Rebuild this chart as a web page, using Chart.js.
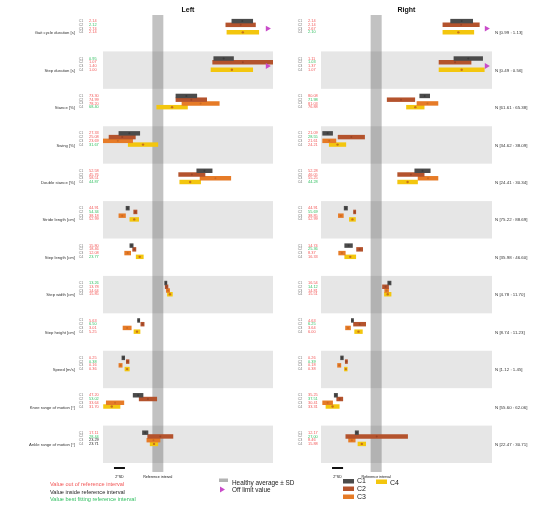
<!DOCTYPE html>
<html>
<head>
<meta charset="utf-8">
<script src="https://cdn.jsdelivr.net/npm/chart.js@4/dist/chart.umd.min.js"></script>
<style>
  html, body { margin: 0; padding: 0; background: #fff; }
  #wrap { position: relative; width: 535px; height: 509px; }
  #wrap canvas { position: absolute; left: 0; top: 0; }
</style>
</head>
<body>
<div id="wrap">
  <canvas id="leftChart" width="535" height="509"></canvas>
  <canvas id="rightChart" width="535" height="509"></canvas>
</div>
<script>
// Gait parameters (one row each)
const rowNames = [
  'Gait cycle duration [s]', 'Step duration [s]', 'Stance [%]', 'Swing [%]',
  'Double stance [%]', 'Stride length [cm]', 'Step length [cm]', 'Step width [cm]',
  'Step height [cm]', 'Speed [m/s]', 'Knee range of motion [°]', 'Ankle range of motion [°]'
];
const clusters = ['C1', 'C2', 'C3', 'C4'];

// Healthy reference interval (average ± SD) per parameter
const refLow  = [0.99, 0.49, 61.61, 34.62, 24.41, 75.22, 35.98, 4.78, 8.74, 1.12, 55.60, 22.47];
const refHigh = [1.13, 0.56, 65.38, 38.09, 30.34, 88.69, 46.60, 11.70, 11.23, 1.45, 62.06, 30.71];

// Cluster means and spreads, in healthy-SD units from the healthy average
// rows = parameters, columns = C1..C4
const leftMeanZ = [
  [15.4, 15.1, 24.0, 15.5],
  [12.0, 15.5, 25.0, 13.5],
  [5.2, 6.1, 7.8, 2.6],
  [-5.2, -6.5, -7.3, -2.7],
  [8.5, 6.2, 10.5, 5.9],
  [-5.5, -4.1, -6.5, -4.3],
  [-4.8, -4.3, -5.5, -3.3],
  [1.45, 1.6, 1.85, 2.2],
  [-3.5, -2.8, -5.6, -3.8],
  [-6.3, -5.5, -6.8, -5.6],
  [-3.6, -1.8, -7.8, -8.4],
  [-2.3, 0.45, -0.8, -0.7]
];
const leftSdZ = [
  [1.9, 2.7, 2.5, 2.9],
  [1.8, 5.5, 3.0, 3.8],
  [1.9, 2.8, 3.4, 2.8],
  [1.9, 2.4, 2.7, 2.7],
  [1.4, 2.4, 2.8, 1.9],
  [0.3, 0.3, 0.6, 0.8],
  [0.3, 0.3, 0.55, 0.65],
  [0.2, 0.25, 0.3, 0.45],
  [0.2, 0.3, 0.75, 0.55],
  [0.25, 0.25, 0.3, 0.4],
  [0.9, 1.6, 1.6, 1.5],
  [0.5, 2.3, 1.2, 0.7]
];
const rightMeanZ = [
  [15.5, 15.4, 23.0, 14.9],
  [16.7, 14.3, 24.0, 15.5],
  [8.8, 4.5, 9.3, 7.1],
  [-8.8, -4.5, -8.5, -7.0],
  [8.4, 6.3, 9.4, 5.7],
  [-5.5, -3.9, -6.4, -4.3],
  [-5.0, -3.0, -6.2, -4.7],
  [2.4, 1.7, 1.9, 2.1],
  [-4.3, -3.0, -5.1, -3.2],
  [-6.2, -5.4, -6.7, -5.5],
  [-7.3, -6.6, -8.8, -7.9],
  [-3.5, 0.1, -4.4, -2.6]
];
const rightSdZ = [
  [2.0, 3.3, 2.5, 2.8],
  [2.6, 2.9, 3.0, 4.1],
  [0.9, 2.5, 1.9, 1.6],
  [0.9, 2.4, 1.2, 1.5],
  [1.4, 2.4, 1.8, 1.8],
  [0.3, 0.2, 0.45, 0.55],
  [0.7, 0.55, 0.6, 1.0],
  [0.3, 0.55, 0.35, 0.6],
  [0.2, 1.1, 0.45, 0.7],
  [0.25, 0.2, 0.3, 0.25],
  [0.3, 0.55, 0.9, 1.2],
  [0.3, 5.6, 0.6, 0.7]
];

const FONT = '"Liberation Sans", Arial, sans-serif';
const clusterColors = ['#4b4b4b', '#b4532d', '#e67b27', '#f3c60e'];
const dotColors = ['#3a3a3a', '#9a4426', '#cc6a22', '#c8721a'];
const RED = '#f25656', BLACK = '#222222', GREEN = '#2fbf5f';
const subOffset = [-0.31, -0.21, -0.11, -0.01];
const X_MIN = -10, X_MAX = 21, OFF_LIMIT_X = 20;

function rawValue(row, z) {
  const mid = (refLow[row] + refHigh[row]) / 2;
  const half = (refHigh[row] - refLow[row]) / 2;
  return mid + z * half;
}
function valueColor(meanRow, k) {
  const a = meanRow.map(Math.abs);
  const best = a.indexOf(Math.min(...a));
  if (k === best) return GREEN;
  return a[k] > 1 ? RED : BLACK;
}

function buildDatasets(meanZ, sdZ) {
  const ds = [];
  clusters.forEach((c, k) => {
    const bars = [], dots = [];
    meanZ.forEach((row, i) => {
      const m = row[k], s = sdZ[i][k];
      if (m <= X_MAX) {
        bars.push({ y: i + subOffset[k], x: [m - s, m + s] });
        dots.push({ x: m, y: i + subOffset[k] });
      }
    });
    ds.push({ type: 'bar', label: c, data: bars, backgroundColor: clusterColors[k],
              barThickness: 3.8, grouped: false, order: 3, borderWidth: 0 });
    ds.push({ type: 'scatter', label: c + ' mean', data: dots, indexAxis: 'x',
              pointRadius: k === 3 ? 1.2 : 1.0, pointBackgroundColor: dotColors[k], pointBorderWidth: 0, order: 2 });
  });
  const tri = [];
  meanZ.forEach((row, i) => row.forEach((m, k) => {
    if (m > X_MAX) tri.push({ x: OFF_LIMIT_X, y: i + subOffset[k] });
  }));
  ds.push({ type: 'scatter', label: 'off limit', data: tri, indexAxis: 'x', pointStyle: 'triangle',
            rotation: 90, pointRadius: 3.4, pointBackgroundColor: '#c94bc9', pointBorderWidth: 0, order: 1 });
  return ds;
}

// Alternating row bands and the healthy reference band
const backdrop = {
  id: 'backdrop',
  beforeDatasetsDraw(chart) {
    const ctx = chart.ctx, xs = chart.scales.x, ys = chart.scales.y, a = chart.chartArea;
    ctx.save();
    ctx.fillStyle = '#e6e6e6';
    for (let i = 1; i < rowNames.length; i += 2) {
      const t = ys.getPixelForValue(i - 0.5), b = ys.getPixelForValue(i + 0.5);
      ctx.fillRect(a.left, t, a.right - a.left, b - t);
    }
    const l = xs.getPixelForValue(-1), r = xs.getPixelForValue(1);
    ctx.fillStyle = 'rgba(95,95,95,0.38)';
    ctx.fillRect(l, a.top + 1, r - l, 472 - a.top - 1);
    ctx.restore();
  }
};

// Titles, row names, per-cluster values, reference intervals and legends
const annotate = {
  id: 'annotate',
  afterDraw(chart, args, o) {
    const ctx = chart.ctx, xs = chart.scales.x, ys = chart.scales.y, a = chart.chartArea;
    ctx.save();
    ctx.textBaseline = 'middle';
    ctx.fillStyle = '#111';
    ctx.font = 'bold 7px ' + FONT;
    ctx.textAlign = 'center';
    ctx.fillText(o.title, (a.left + a.right) / 2, 10);

    o.meanZ.forEach((row, i) => {
      const yc = ys.getPixelForValue(i);
      if (o.side === 'left') {
        ctx.font = '4.2px ' + FONT;
        ctx.fillStyle = '#333';
        ctx.textAlign = 'right';
        ctx.fillText(rowNames[i], 75, yc + 0.5);
      } else {
        ctx.font = '4.4px ' + FONT;
        ctx.fillStyle = '#333';
        ctx.textAlign = 'left';
        ctx.fillText('N [' + refLow[i].toFixed(2) + ' : ' + refHigh[i].toFixed(2) + ']', 495, yc + 0.5);
      }
      row.forEach((m, k) => {
        const y = ys.getPixelForValue(i + subOffset[k]);
        ctx.font = '3.6px ' + FONT;
        ctx.fillStyle = '#777';
        ctx.textAlign = 'center';
        ctx.fillText(clusters[k], o.cx, y);
        ctx.font = '3.9px ' + FONT;
        ctx.fillStyle = valueColor(row, k);
        ctx.textAlign = 'left';
        ctx.fillText(rawValue(i, m).toFixed(2), o.vx, y);
      });
    });

    // 2*SD scale bar and reference-interval caption
    const s0 = xs.getPixelForValue(-8), s1 = xs.getPixelForValue(-6);
    ctx.fillStyle = '#111';
    ctx.fillRect(s0, 467, s1 - s0, 2);
    ctx.font = '3.6px ' + FONT;
    ctx.textAlign = 'center';
    ctx.fillText('2*SD', (s0 + s1) / 2, 477);
    ctx.fillText('Reference interval', xs.getPixelForValue(0), 477);

    if (o.side === 'left') {
      ctx.font = '5.6px ' + FONT;
      ctx.textAlign = 'left';
      ctx.fillStyle = RED;   ctx.fillText('Value out of reference interval', 50, 484.5);
      ctx.fillStyle = BLACK; ctx.fillText('Value inside reference interval', 50, 492);
      ctx.fillStyle = GREEN; ctx.fillText('Value best fitting reference interval', 50, 499.5);
      ctx.fillStyle = '#b3b3b3';
      ctx.fillRect(219, 478.5, 9, 3.5);
      ctx.fillStyle = '#222';
      ctx.font = '6.4px ' + FONT;
      ctx.fillText('Healthy average \u00b1 SD', 232, 483);
      ctx.fillText('Off limit value', 232, 490.5);
      ctx.fillStyle = '#c94bc9';
      ctx.beginPath();
      ctx.moveTo(220, 486.5); ctx.lineTo(225, 489.5); ctx.lineTo(220, 492.5); ctx.closePath();
      ctx.fill();
    } else {
      const items = [[343, 479, 357, 481.5], [343, 486.5, 357, 489], [343, 494.5, 357, 497], [376, 479.5, 390, 483.5]];
      ctx.font = '7px ' + FONT;
      ctx.textAlign = 'left';
      items.forEach((it, k) => {
        ctx.fillStyle = clusterColors[k];
        ctx.fillRect(it[0], it[1], 11, 4.5);
        ctx.fillStyle = '#222';
        ctx.fillText(clusters[k], it[2], it[3]);
      });
    }
    ctx.restore();
  }
};

function makePanel(id, side, title, meanZ, sdZ, padding, cx, vx) {
  return new Chart(document.getElementById(id), {
    type: 'bar',
    data: { datasets: buildDatasets(meanZ, sdZ) },
    options: {
      indexAxis: 'y',
      responsive: false,
      animation: false,
      devicePixelRatio: 1,
      events: [],
      layout: { padding: padding },
      scales: {
        x: { type: 'linear', min: X_MIN, max: X_MAX, display: false },
        y: { type: 'linear', min: -0.5, max: rowNames.length - 0.5, reverse: true, offset: false, display: false }
      },
      plugins: {
        legend: { display: false },
        tooltip: { enabled: false },
        annotate: { side: side, title: title, meanZ: meanZ, cx: cx, vx: vx }
      }
    },
    plugins: [backdrop, annotate]
  });
}

makePanel('leftChart', 'left', 'Left', leftMeanZ, leftSdZ, { left: 103, right: 262, top: 14, bottom: 46 }, 81, 89);
makePanel('rightChart', 'right', 'Right', rightMeanZ, rightSdZ, { left: 321, right: 43, top: 14, bottom: 46 }, 300, 308);
</script>
</body>
</html>
